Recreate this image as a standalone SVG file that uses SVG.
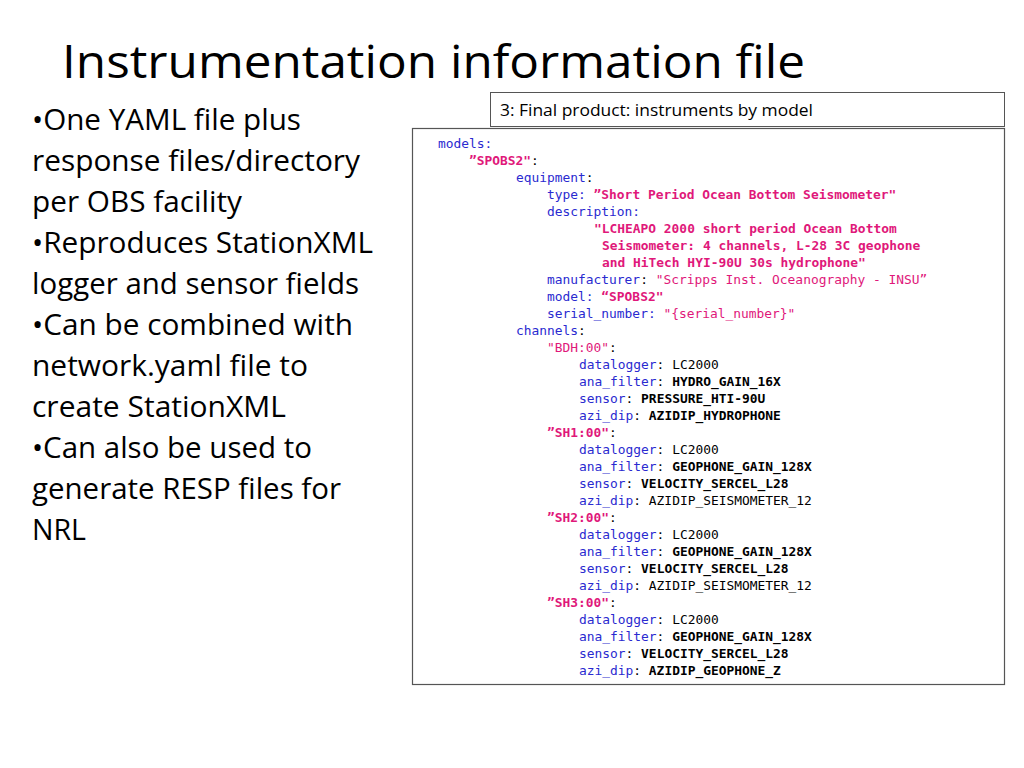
<svg xmlns="http://www.w3.org/2000/svg" width="1024" height="768" viewBox="0 0 1024 768">
<style>
.t{font-family:"Open Sans","Liberation Sans",sans-serif;fill:#000}
.b{font-family:"Open Sans","Liberation Sans",sans-serif;font-size:29px;fill:#000}
.c{font-family:"DejaVu Sans Mono","Liberation Mono",monospace;font-size:12.9px;fill:#000}
.k{fill:#2a2ad0}.s{fill:#e0187a}.v{font-weight:bold}
</style>
<rect width="1024" height="768" fill="#fff"/>
<text class="t" x="62" y="78" font-size="46" textLength="743" lengthAdjust="spacingAndGlyphs">Instrumentation information file</text>
<g id="bullets">
<text class="b" x="32" y="130" textLength="269" lengthAdjust="spacingAndGlyphs">•One YAML file plus</text>
<text class="b" x="32" y="171" textLength="328" lengthAdjust="spacingAndGlyphs">response files/directory</text>
<text class="b" x="32" y="212" textLength="210" lengthAdjust="spacingAndGlyphs">per OBS facility</text>
<text class="b" x="32" y="253" textLength="341" lengthAdjust="spacingAndGlyphs">•Reproduces StationXML</text>
<text class="b" x="32" y="294" textLength="327" lengthAdjust="spacingAndGlyphs">logger and sensor fields</text>
<text class="b" x="32" y="335" textLength="321" lengthAdjust="spacingAndGlyphs">•Can be combined with</text>
<text class="b" x="32" y="376" textLength="276" lengthAdjust="spacingAndGlyphs">network.yaml file to</text>
<text class="b" x="32" y="417" textLength="254" lengthAdjust="spacingAndGlyphs">create StationXML</text>
<text class="b" x="32" y="458" textLength="280" lengthAdjust="spacingAndGlyphs">•Can also be used to</text>
<text class="b" x="32" y="499" textLength="309" lengthAdjust="spacingAndGlyphs">generate RESP files for</text>
<text class="b" x="32" y="540" textLength="54" lengthAdjust="spacingAndGlyphs">NRL</text>
</g>
<g id="header">
<rect x="490.5" y="92.5" width="514" height="34" fill="#fff" stroke="#555" stroke-width="1"/>
<text class="t" x="500" y="116" font-size="16" textLength="313" lengthAdjust="spacingAndGlyphs">3: Final product: instruments by model</text>
</g>
<g id="code">
<rect x="412.5" y="128.5" width="592" height="556" fill="#fff" stroke="#555" stroke-width="1.2"/>
<text class="c" x="438" y="148"><tspan class="k">models:</tspan></text>
<text class="c" x="469" y="165"><tspan class="s v">”SPOBS2"</tspan>:</text>
<text class="c" x="516" y="182"><tspan class="k">equipment</tspan>:</text>
<text class="c" x="547" y="199"><tspan class="k">type: </tspan><tspan class="s v">”Short Period Ocean Bottom Seismometer"</tspan></text>
<text class="c" x="547" y="216"><tspan class="k">description:</tspan></text>
<text class="c s v" x="594" y="233">"LCHEAPO 2000 short period Ocean Bottom</text>
<text class="c s v" x="602" y="250">Seismometer: 4 channels, L-28 3C geophone</text>
<text class="c s v" x="602" y="267">and HiTech HYI-90U 30s hydrophone"</text>
<text class="c" x="547" y="284"><tspan class="k">manufacturer</tspan>: <tspan class="s">"Scripps Inst. Oceanography - INSU”</tspan></text>
<text class="c" x="547" y="301"><tspan class="k">model: </tspan><tspan class="s v">“SPOBS2"</tspan></text>
<text class="c" x="547" y="318"><tspan class="k">serial_number: </tspan><tspan class="s">"{serial_number}"</tspan></text>
<text class="c" x="516" y="335"><tspan class="k">channels</tspan>:</text>
<text class="c" x="547" y="352"><tspan class="s">"BDH:00"</tspan>:</text>
<text class="c" x="579" y="369"><tspan class="k">datalogger</tspan>: LC2000</text>
<text class="c" x="579" y="386"><tspan class="k">ana_filter</tspan>: <tspan class="v">HYDRO_GAIN_16X</tspan></text>
<text class="c" x="579" y="403"><tspan class="k">sensor</tspan>: <tspan class="v">PRESSURE_HTI-90U</tspan></text>
<text class="c" x="579" y="420"><tspan class="k">azi_dip</tspan>: <tspan class="v">AZIDIP_HYDROPHONE</tspan></text>
<text class="c" x="547" y="437"><tspan class="s v">”SH1:00"</tspan>:</text>
<text class="c" x="579" y="454"><tspan class="k">datalogger</tspan>: LC2000</text>
<text class="c" x="579" y="471"><tspan class="k">ana_filter</tspan>: <tspan class="v">GEOPHONE_GAIN_128X</tspan></text>
<text class="c" x="579" y="488"><tspan class="k">sensor</tspan>: <tspan class="v">VELOCITY_SERCEL_L28</tspan></text>
<text class="c" x="579" y="505"><tspan class="k">azi_dip</tspan>: AZIDIP_SEISMOMETER_12</text>
<text class="c" x="547" y="522"><tspan class="s v">”SH2:00"</tspan>:</text>
<text class="c" x="579" y="539"><tspan class="k">datalogger</tspan>: LC2000</text>
<text class="c" x="579" y="556"><tspan class="k">ana_filter</tspan>: <tspan class="v">GEOPHONE_GAIN_128X</tspan></text>
<text class="c" x="579" y="573"><tspan class="k">sensor</tspan>: <tspan class="v">VELOCITY_SERCEL_L28</tspan></text>
<text class="c" x="579" y="590"><tspan class="k">azi_dip</tspan>: AZIDIP_SEISMOMETER_12</text>
<text class="c" x="547" y="607"><tspan class="s v">”SH3:00"</tspan>:</text>
<text class="c" x="579" y="624"><tspan class="k">datalogger</tspan>: LC2000</text>
<text class="c" x="579" y="641"><tspan class="k">ana_filter</tspan>: <tspan class="v">GEOPHONE_GAIN_128X</tspan></text>
<text class="c" x="579" y="658"><tspan class="k">sensor</tspan>: <tspan class="v">VELOCITY_SERCEL_L28</tspan></text>
<text class="c" x="579" y="675"><tspan class="k">azi_dip</tspan>: <tspan class="v">AZIDIP_GEOPHONE_Z</tspan></text>
</g>
</svg>
